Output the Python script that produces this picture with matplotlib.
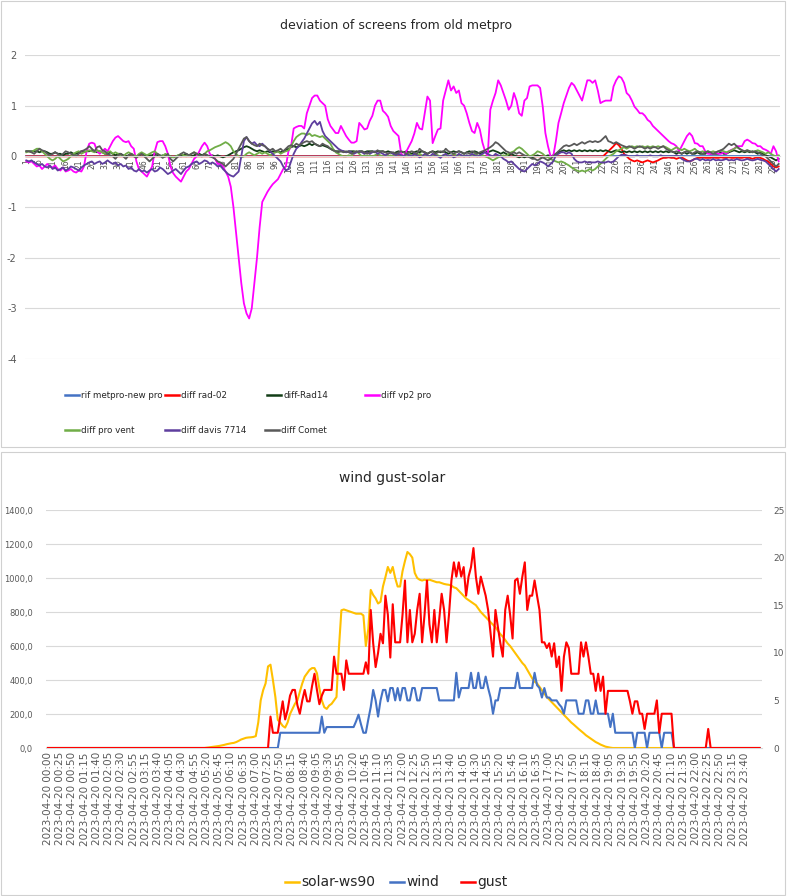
import numpy as np
import matplotlib
matplotlib.use("Agg")
import matplotlib.pyplot as plt
from matplotlib.lines import Line2D
from matplotlib.patches import Rectangle

plt.rcParams['axes.unicode_minus'] = False

# canvas size in pixels (dpi 100)
W, H = 787, 896
GRID = '#D9D9D9'
TXT = '#595959'

# ---------------- top chart: deviation of screens (288 samples) ----------------
rif_metpro_new_pro = [0.0] * 288

diff_rad02 = [0.0] * 216 + [
    0.00, 0.00, 0.00, 0.00, 0.00, 0.05, 0.10, 0.15, 0.20, 0.26, 0.22, 0.15,
    0.05, 0.00, -0.05, -0.08, -0.10, -0.08, -0.10, -0.12, -0.10, -0.08, -0.10, -0.12,
    -0.10, -0.08, -0.05, -0.03, -0.03, -0.02, -0.03, -0.03, -0.05, -0.03, -0.02, -0.05,
    -0.08, -0.10, -0.08, -0.05, -0.03, -0.03, -0.02, -0.03, -0.03, -0.03, -0.02, -0.03,
    -0.03, -0.02, -0.03, -0.03, -0.02, -0.03, -0.03, -0.02, -0.03, -0.03, -0.02, -0.03,
    -0.03, -0.05, -0.03, -0.02, -0.03, -0.05, -0.08, -0.10, -0.15, -0.20, -0.22, -0.20,
]

diff_rad14 = [
    0.10, 0.10, 0.10, 0.10, 0.10, 0.08, 0.10, 0.10, 0.08, 0.05, 0.05, 0.08, 0.05, 0.05, 0.02, 0.05, 0.05, 0.08, 0.05, 0.05, 0.08, 0.10, 0.08, 0.10,
    0.10, 0.12, 0.10, 0.08, 0.10, 0.08, 0.05, 0.05, 0.08, 0.05, 0.02, 0.05, 0.05, 0.02, 0.00, 0.02, 0.05, 0.02, 0.00, 0.02, 0.05, 0.02, 0.00, 0.02,
    0.02, 0.05, 0.02, 0.00, 0.02, 0.00, 0.02, 0.00, -0.02, 0.00, 0.02, 0.00, 0.02, 0.05, 0.02, 0.00, 0.02, 0.05, 0.05, 0.02, 0.05, 0.02, 0.00, 0.02,
    0.00, 0.02, 0.00, -0.02, 0.00, 0.02, 0.05, 0.08, 0.10, 0.12, 0.15, 0.18, 0.20, 0.18, 0.15, 0.12, 0.10, 0.12, 0.10, 0.08, 0.10, 0.08, 0.10, 0.08,
    0.10, 0.08, 0.10, 0.12, 0.15, 0.18, 0.20, 0.18, 0.20, 0.22, 0.20, 0.22, 0.25, 0.22, 0.25, 0.22, 0.20, 0.22, 0.20, 0.18, 0.15, 0.12, 0.10, 0.10,
    0.10, 0.10, 0.08, 0.10, 0.10, 0.10, 0.08, 0.10, 0.10, 0.08, 0.10, 0.10, 0.10, 0.08, 0.10, 0.10, 0.10, 0.08, 0.10, 0.08, 0.05, 0.08, 0.10, 0.08,
    0.08, 0.10, 0.08, 0.05, 0.08, 0.10, 0.08, 0.10, 0.08, 0.05, 0.08, 0.10, 0.08, 0.10, 0.08, 0.10, 0.08, 0.05, 0.08, 0.10, 0.08, 0.10, 0.08, 0.05,
    0.08, 0.10, 0.08, 0.10, 0.08, 0.05, 0.08, 0.10, 0.08, 0.10, 0.12, 0.10, 0.08, 0.05, 0.08, 0.05, 0.02, 0.05, 0.02, 0.00, -0.02, 0.00, -0.02, 0.00,
    0.00, -0.02, 0.00, 0.02, 0.00, -0.02, 0.00, 0.02, 0.00, 0.02, 0.05, 0.08, 0.10, 0.12, 0.10, 0.12, 0.10, 0.12, 0.10, 0.12, 0.10, 0.12, 0.10, 0.12,
    0.10, 0.12, 0.10, 0.12, 0.10, 0.12, 0.10, 0.08, 0.10, 0.12, 0.10, 0.08, 0.10, 0.08, 0.10, 0.08, 0.10, 0.08, 0.10, 0.08, 0.10, 0.08, 0.10, 0.08,
    0.10, 0.08, 0.10, 0.08, 0.10, 0.08, 0.10, 0.08, 0.05, 0.08, 0.05, 0.08, 0.05, 0.08, 0.05, 0.05, 0.08, 0.05, 0.05, 0.05, 0.08, 0.05, 0.05, 0.05,
    0.05, 0.08, 0.05, 0.05, 0.08, 0.10, 0.12, 0.10, 0.08, 0.10, 0.08, 0.10, 0.08, 0.10, 0.08, 0.05, 0.08, 0.05, 0.02, 0.00, -0.02, -0.05, -0.08, -0.05,
]

diff_vp2_pro = [
    -0.10, -0.12, -0.10, -0.15, -0.20, -0.18, -0.25, -0.20, -0.15, -0.20, -0.22, -0.18, -0.25, -0.28, -0.22, -0.30, -0.28, -0.25, -0.30, -0.32, -0.28, -0.30, -0.20, 0.10,
    0.25, 0.27, 0.25, 0.10, 0.05, 0.10, 0.15, 0.10, 0.20, 0.30, 0.37, 0.40, 0.35, 0.30, 0.28, 0.30, 0.20, 0.15, -0.10, -0.26, -0.30, -0.35, -0.40, -0.30,
    -0.20, 0.10, 0.28, 0.30, 0.30, 0.20, 0.05, -0.20, -0.33, -0.40, -0.45, -0.50, -0.40, -0.30, -0.25, -0.15, -0.05, 0.00, 0.10, 0.20, 0.27, 0.20, 0.05, 0.00,
    -0.05, -0.15, -0.15, -0.20, -0.30, -0.40, -0.60, -1.00, -1.50, -2.00, -2.50, -2.90, -3.10, -3.20, -3.00, -2.50, -2.00, -1.40, -0.90, -0.80, -0.70, -0.62, -0.55, -0.50,
    -0.45, -0.35, -0.25, -0.20, 0.10, 0.20, 0.55, 0.58, 0.60, 0.60, 0.55, 0.85, 1.00, 1.15, 1.20, 1.20, 1.10, 1.05, 1.00, 0.73, 0.60, 0.53, 0.46, 0.46,
    0.60, 0.50, 0.40, 0.33, 0.27, 0.27, 0.30, 0.66, 0.60, 0.53, 0.55, 0.70, 0.80, 1.00, 1.10, 1.10, 0.90, 0.85, 0.78, 0.60, 0.50, 0.45, 0.40, 0.05,
    0.00, 0.10, 0.20, 0.30, 0.45, 0.66, 0.55, 0.53, 0.85, 1.18, 1.10, 0.26, 0.40, 0.53, 0.55, 1.10, 1.30, 1.50, 1.30, 1.38, 1.25, 1.30, 1.05, 1.00,
    0.85, 0.66, 0.50, 0.46, 0.66, 0.53, 0.27, 0.10, 0.00, 0.92, 1.10, 1.25, 1.50, 1.40, 1.25, 1.10, 0.92, 1.00, 1.25, 1.10, 0.85, 0.80, 1.10, 1.15,
    1.38, 1.40, 1.40, 1.40, 1.35, 0.98, 0.46, 0.20, 0.00, 0.00, 0.30, 0.66, 0.85, 1.05, 1.20, 1.35, 1.45, 1.40, 1.30, 1.20, 1.10, 1.30, 1.50, 1.50,
    1.45, 1.50, 1.30, 1.05, 1.08, 1.10, 1.10, 1.10, 1.38, 1.50, 1.58, 1.55, 1.45, 1.25, 1.20, 1.10, 0.98, 0.92, 0.85, 0.85, 0.80, 0.72, 0.68, 0.60,
    0.55, 0.50, 0.45, 0.40, 0.35, 0.30, 0.26, 0.24, 0.20, 0.10, 0.20, 0.30, 0.40, 0.46, 0.40, 0.26, 0.25, 0.20, 0.20, 0.10, 0.05, 0.05, 0.05, 0.08,
    0.05, 0.05, 0.08, 0.05, 0.10, 0.13, 0.15, 0.20, 0.20, 0.20, 0.30, 0.33, 0.30, 0.26, 0.25, 0.20, 0.20, 0.15, 0.13, 0.10, 0.05, 0.20, 0.10, -0.10,
]

diff_pro_vent = [
    0.08, 0.10, 0.08, 0.12, 0.15, 0.15, 0.10, 0.05, 0.00, -0.05, -0.08, -0.05, 0.00, -0.05, -0.10, -0.08, -0.05, 0.00, 0.05, 0.08, 0.10, 0.05, 0.08, 0.10,
    0.12, 0.10, 0.08, 0.12, 0.10, 0.08, 0.05, 0.08, 0.10, 0.05, 0.08, 0.05, 0.02, 0.00, 0.05, 0.08, 0.05, 0.02, 0.00, 0.05, 0.08, 0.05, 0.02, 0.05,
    0.08, 0.10, 0.05, 0.02, 0.00, 0.05, 0.02, 0.00, -0.02, 0.00, 0.02, 0.05, 0.02, 0.00, 0.02, 0.05, 0.08, 0.05, 0.02, 0.00, 0.05, 0.10, 0.12, 0.15,
    0.18, 0.20, 0.22, 0.25, 0.28, 0.25, 0.20, 0.10, 0.05, 0.00, -0.02, 0.00, 0.05, 0.08, 0.05, 0.02, 0.05, 0.08, 0.05, 0.08, 0.05, 0.02, 0.05, 0.08,
    0.10, 0.05, 0.08, 0.10, 0.12, 0.20, 0.30, 0.38, 0.42, 0.45, 0.45, 0.42, 0.45, 0.40, 0.42, 0.40, 0.38, 0.40, 0.35, 0.30, 0.25, 0.15, 0.08, 0.05,
    0.02, 0.00, 0.00, 0.02, 0.00, 0.08, 0.10, 0.05, 0.00, 0.02, 0.00, 0.02, 0.00, 0.02, 0.05, 0.02, 0.00, 0.02, 0.00, 0.02, 0.00, 0.02, 0.05, 0.02,
    0.00, 0.02, 0.05, 0.02, 0.00, 0.02, 0.05, 0.02, 0.00, 0.02, 0.00, 0.02, 0.05, 0.02, 0.00, 0.02, 0.00, 0.02, 0.00, 0.05, 0.02, 0.00, 0.02, 0.00,
    0.02, 0.00, 0.02, 0.05, 0.02, 0.00, 0.02, 0.00, -0.02, -0.05, -0.08, -0.05, -0.02, 0.00, 0.02, 0.00, 0.05, 0.08, 0.10, 0.15, 0.18, 0.15, 0.10, 0.05,
    0.00, 0.02, 0.05, 0.10, 0.08, 0.05, 0.00, -0.02, -0.05, -0.08, -0.10, -0.12, -0.10, -0.12, -0.15, -0.18, -0.22, -0.25, -0.28, -0.30, -0.28, -0.30, -0.28, -0.25,
    -0.28, -0.25, -0.20, -0.15, -0.10, -0.05, 0.00, 0.02, 0.05, 0.10, 0.12, 0.15, 0.18, 0.15, 0.18, 0.20, 0.18, 0.20, 0.18, 0.20, 0.18, 0.20, 0.18, 0.20,
    0.18, 0.20, 0.18, 0.20, 0.18, 0.15, 0.12, 0.15, 0.18, 0.15, 0.12, 0.15, 0.12, 0.10, 0.12, 0.15, 0.10, 0.08, 0.10, 0.08, 0.10, 0.08, 0.10, 0.08,
    0.10, 0.12, 0.10, 0.08, 0.10, 0.12, 0.15, 0.18, 0.15, 0.12, 0.10, 0.12, 0.10, 0.08, 0.10, 0.12, 0.10, 0.08, 0.05, 0.08, 0.05, 0.02, 0.00, 0.02,
]

diff_davis_7714 = [
    -0.08, -0.10, -0.08, -0.12, -0.15, -0.18, -0.15, -0.20, -0.22, -0.18, -0.25, -0.22, -0.28, -0.25, -0.22, -0.28, -0.25, -0.20, -0.22, -0.25, -0.28, -0.22, -0.18, -0.15,
    -0.12, -0.10, -0.15, -0.12, -0.10, -0.15, -0.12, -0.08, -0.12, -0.15, -0.12, -0.18, -0.15, -0.20, -0.18, -0.25, -0.22, -0.28, -0.30, -0.25, -0.30, -0.28, -0.32, -0.28,
    -0.25, -0.30, -0.28, -0.22, -0.25, -0.30, -0.35, -0.32, -0.28, -0.25, -0.30, -0.35, -0.28, -0.22, -0.20, -0.15, -0.12, -0.10, -0.15, -0.12, -0.08, -0.10, -0.15, -0.12,
    -0.15, -0.20, -0.18, -0.25, -0.30, -0.35, -0.38, -0.40, -0.35, -0.30, 0.00, 0.30, 0.38, 0.30, 0.25, 0.28, 0.22, 0.20, 0.25, 0.20, 0.15, 0.10, 0.05, 0.00,
    -0.05, -0.10, -0.20, -0.28, -0.25, -0.10, 0.05, 0.15, 0.20, 0.28, 0.35, 0.45, 0.55, 0.65, 0.70, 0.62, 0.68, 0.50, 0.40, 0.35, 0.30, 0.25, 0.20, 0.15,
    0.12, 0.10, 0.08, 0.10, 0.08, 0.05, 0.08, 0.10, 0.08, 0.05, 0.08, 0.05, 0.08, 0.10, 0.05, 0.08, 0.05, 0.02, 0.05, 0.08, 0.05, 0.02, 0.05, 0.02,
    0.00, 0.05, 0.02, 0.00, 0.05, 0.02, -0.02, 0.00, 0.05, 0.02, 0.00, 0.05, 0.02, 0.00, -0.03, 0.02, 0.05, 0.00, 0.02, -0.02, 0.00, 0.05, 0.02, 0.00,
    0.02, 0.00, 0.05, 0.02, 0.00, 0.02, 0.05, 0.08, 0.05, 0.02, 0.00, 0.05, 0.02, 0.00, -0.05, -0.08, -0.12, -0.10, -0.15, -0.20, -0.25, -0.28, -0.30, -0.25,
    -0.20, -0.15, -0.18, -0.15, -0.10, -0.12, -0.15, -0.20, -0.15, -0.10, 0.02, 0.05, 0.08, 0.08, 0.05, 0.08, 0.05, -0.05, -0.10, -0.12, -0.12, -0.10, -0.12, -0.12,
    -0.12, -0.12, -0.10, -0.12, -0.12, -0.12, -0.10, -0.12, -0.10, -0.05, 0.00, 0.03, 0.03, 0.02, 0.00, 0.00, 0.00, 0.02, 0.00, 0.00, 0.00, 0.00, 0.02, 0.00,
    0.00, 0.00, 0.02, 0.00, 0.00, 0.00, 0.00, 0.00, 0.02, 0.00, -0.05, -0.08, -0.10, -0.10, -0.08, -0.05, -0.05, -0.08, -0.05, -0.08, -0.07, -0.08, -0.05, -0.08,
    -0.07, -0.08, -0.07, -0.05, -0.08, -0.07, -0.08, -0.05, -0.07, -0.08, -0.07, -0.05, -0.07, -0.08, -0.07, -0.05, -0.07, -0.08, -0.10, -0.15, -0.20, -0.25, -0.30, -0.25,
]

diff_comet = [
    0.10, 0.10, 0.08, 0.05, 0.10, 0.15, 0.12, 0.10, 0.05, 0.02, 0.05, 0.08, 0.05, 0.00, 0.05, 0.10, 0.08, 0.05, 0.02, 0.00, 0.05, 0.10, 0.12, 0.15,
    0.20, 0.15, 0.10, 0.18, 0.20, 0.12, 0.10, 0.05, 0.02, 0.00, -0.05, 0.02, 0.05, 0.00, -0.05, 0.02, 0.05, 0.00, -0.03, 0.02, 0.05, 0.00, -0.05, -0.10,
    -0.05, 0.00, 0.05, 0.02, -0.03, 0.00, 0.05, -0.05, -0.10, -0.05, 0.00, 0.05, 0.08, 0.05, 0.02, 0.05, 0.08, 0.05, 0.02, 0.00, 0.05, 0.02, 0.00, -0.02,
    -0.05, -0.10, -0.12, -0.15, -0.20, -0.15, -0.10, -0.05, 0.05, 0.15, 0.25, 0.35, 0.38, 0.30, 0.25, 0.22, 0.20, 0.25, 0.22, 0.20, 0.15, 0.12, 0.15, 0.10,
    0.12, 0.15, 0.10, 0.15, 0.20, 0.22, 0.20, 0.25, 0.22, 0.25, 0.28, 0.30, 0.28, 0.30, 0.25, 0.22, 0.20, 0.25, 0.22, 0.20, 0.15, 0.12, 0.10, 0.08,
    0.10, 0.08, 0.10, 0.08, 0.05, 0.08, 0.10, 0.08, 0.10, 0.08, 0.05, 0.08, 0.10, 0.08, 0.12, 0.08, 0.10, 0.08, 0.05, 0.08, 0.08, 0.05, 0.08, 0.10,
    0.08, 0.05, 0.08, 0.10, 0.08, 0.05, 0.15, 0.10, 0.08, 0.05, 0.08, 0.10, 0.05, 0.08, 0.10, 0.08, 0.15, 0.10, 0.08, 0.05, 0.08, 0.10, 0.08, 0.05,
    0.08, 0.05, 0.10, 0.08, 0.05, 0.08, 0.10, 0.12, 0.15, 0.18, 0.22, 0.28, 0.25, 0.20, 0.15, 0.10, 0.08, 0.05, 0.08, 0.05, 0.08, 0.05, 0.02, 0.00,
    -0.02, -0.05, -0.05, -0.08, -0.05, -0.02, -0.05, -0.08, -0.05, 0.00, 0.05, 0.10, 0.15, 0.20, 0.22, 0.20, 0.22, 0.25, 0.22, 0.25, 0.28, 0.25, 0.28, 0.30,
    0.28, 0.30, 0.28, 0.30, 0.35, 0.40, 0.30, 0.28, 0.25, 0.28, 0.25, 0.22, 0.20, 0.18, 0.20, 0.18, 0.15, 0.18, 0.20, 0.18, 0.15, 0.18, 0.15, 0.18,
    0.18, 0.15, 0.18, 0.20, 0.15, 0.12, 0.10, 0.08, 0.10, 0.08, 0.05, 0.08, 0.10, 0.08, 0.05, 0.08, 0.10, 0.08, 0.05, 0.08, 0.10, 0.08, 0.05, 0.08,
    0.10, 0.12, 0.15, 0.20, 0.25, 0.22, 0.25, 0.20, 0.15, 0.12, 0.10, 0.12, 0.10, 0.08, 0.10, 0.08, 0.05, 0.02, 0.00, -0.05, -0.10, -0.15, -0.20, -0.15,
]

top_names = ["rif metpro-new pro", "diff rad-02", "diff-Rad14", "diff vp2 pro",
             "diff pro vent", "diff davis 7714", "diff Comet"]
top_series = [rif_metpro_new_pro, diff_rad02, diff_rad14, diff_vp2_pro,
              diff_pro_vent, diff_davis_7714, diff_comet]
top_colors = ['#4472C4', '#FF0000', '#123D16', '#FF00FF', '#70AD47', '#5E3E9E', '#595959']

# ---------------- bottom chart: wind gust-solar (292 samples, 5 min) ----------------
solar_ws90 = [0] * 65 + [
    2, 4, 6, 8, 10, 12, 15, 18, 22, 25,
    28, 30, 35, 42, 50, 55, 60, 62, 63, 65,
    70, 150, 280, 340, 380, 480, 490, 400, 300, 165,
    150, 130, 120, 150, 200, 230, 260, 280, 330, 380,
    420, 440, 460, 470, 470, 440, 350, 280, 240, 230,
    250, 260, 280, 300, 590, 810, 815, 810, 805, 800,
    795, 790, 790, 790, 780, 600, 700, 930, 900, 880,
    850, 860, 950, 1005, 1065, 1030, 1065, 1000, 950, 950,
    1040, 1100, 1153, 1140, 1120, 1030, 1000, 990, 985, 990,
    985, 990, 985, 980, 975, 975, 970, 965, 962, 960,
    955, 945, 940, 925, 910, 895, 880, 870, 860, 850,
    840, 820, 800, 785, 770, 755, 740, 725, 710, 690,
    670, 655, 635, 615, 600, 580, 560, 540, 520, 500,
    485, 460, 435, 410, 390, 380, 360, 340, 320, 300,
    285, 270, 255, 240, 225, 210, 195, 180, 165, 150,
    138, 125, 112, 100, 88, 75, 65, 55, 45, 35,
    28, 20, 14, 8, 5, 2,
] + [0] * 61

wind = [0] * 95 + [1.6] * 17 + [
    3.3, 1.6, 2.2, 2.2, 2.2, 2.2, 2.2, 2.2, 2.2, 2.2,
    2.2, 2.2, 2.2, 2.2, 2.8, 3.5, 2.5, 1.6, 1.6, 3.0,
    4.3, 6.1, 5.0, 3.3, 5.0, 6.1, 6.1, 4.9, 6.3, 6.3,
    5.0, 6.3, 5.0, 6.3, 6.3, 5.0, 5.0, 6.3, 6.3, 5.0,
    5.0, 6.3, 6.3, 6.3, 6.3, 6.3, 6.3, 6.3, 5.0, 5.0,
    5.0, 5.0, 5.0, 5.0, 5.0, 7.9, 5.3, 6.3, 6.3, 6.3,
    6.3, 7.9, 6.3, 6.3, 7.9, 6.3, 6.3, 7.5, 6.3, 5.3,
    3.6, 5.0, 5.0, 6.3, 6.3, 6.3, 6.3, 6.3, 6.3, 6.3,
    7.9, 6.3, 6.3, 6.3, 6.3, 6.3, 6.3, 7.9, 6.6, 6.3,
    5.3, 6.3, 5.3, 5.3, 5.0, 5.0, 5.0, 4.6, 4.3, 3.6,
    5.0, 5.0, 5.0, 5.0, 5.0, 3.6, 3.6, 3.6, 5.0, 5.0,
    3.6, 3.6, 5.0, 3.6, 3.6, 3.6, 3.6, 3.6, 2.2, 3.6,
    1.6, 1.6, 1.6, 1.6, 1.6, 1.6, 1.6, 1.6, 0.0, 1.6,
    1.6, 1.6, 1.6, 0.0, 1.6, 1.6, 1.6, 1.6, 1.6, 0.0,
    1.6, 1.6, 1.6, 1.6, 0.0,
] + [0] * 35

gust = [0] * 91 + [
    3.3, 1.6, 1.6, 1.6, 3.3, 4.9, 3.0, 4.0, 5.5, 6.1,
    6.1, 4.5, 3.6, 5.0, 6.1, 4.9, 4.9, 6.5, 7.8, 6.1,
    4.6, 5.5, 6.1, 6.1, 6.1, 6.1, 9.6, 7.8, 7.8, 7.8,
    6.1, 9.2, 7.8, 7.8, 7.8, 7.8, 7.8, 7.8, 7.8, 9.0,
    7.8, 14.5, 11.0, 8.5, 10.0, 12.0, 11.0, 16.0, 14.0, 9.5,
    15.1, 11.1, 11.1, 11.1, 14.0, 17.6, 11.1, 14.5, 11.1, 12.0,
    14.5, 16.2, 11.1, 14.0, 17.6, 13.0, 11.1, 14.5, 11.1, 13.5,
    16.2, 14.5, 11.1, 14.0, 17.6, 19.5, 18.0, 19.5, 18.0, 19.0,
    16.0, 18.0, 19.0, 21.0, 18.0, 16.2, 18.0, 17.0, 16.0, 14.5,
    12.0, 9.6, 14.5, 12.7, 11.0, 9.6, 14.5, 16.0, 14.0, 11.5,
    17.6, 17.8, 16.2, 18.0, 19.5, 14.5, 16.0, 16.0, 17.6, 16.0,
    14.5, 11.1, 11.1, 10.5, 11.0, 9.6, 11.0, 8.5, 9.6, 6.0,
    9.6, 11.1, 10.5, 7.8, 7.8, 7.8, 7.8, 11.1, 9.6, 11.1,
    9.6, 7.8, 7.8, 6.0, 7.8, 6.0, 7.5, 3.6, 6.0, 6.0,
    6.0, 6.0, 6.0, 6.0, 6.0, 6.0, 6.0, 4.9, 3.6, 4.9,
    4.9, 3.6, 3.6, 2.0, 3.6, 3.6, 3.6, 3.6, 5.0, 1.6,
    3.6, 3.6, 3.6, 3.6, 3.6,
] + [0] * 14 + [2.0] + [0] * 21

# one label every 5 samples
time_ticks = [
    "00:00", "00:25", "00:50", "01:15", "01:40", "02:05", "02:30", "02:55", "03:15", "03:40",
    "04:05", "04:30", "04:55", "05:20", "05:45", "06:10", "06:35", "07:00", "07:25", "07:50",
    "08:15", "08:40", "09:05", "09:30", "09:55", "10:20", "10:45", "11:10", "11:35", "12:00",
    "12:25", "12:50", "13:15", "13:40", "14:05", "14:30", "14:55", "15:20", "15:45", "16:10",
    "16:35", "17:00", "17:25", "17:50", "18:15", "18:40", "19:05", "19:30", "19:55", "20:20",
    "20:45", "21:10", "21:35", "22:00", "22:25", "22:50", "23:15", "23:40",
]


def box(x0, y0, x1, y1):
    # pixel box (top-left origin) -> figure fraction rect
    return [x0 / W, 1 - y1 / H, (x1 - x0) / W, (y1 - y0) / H]


def legend_item(fig, x, y, color, label, size):
    yy = 1 - y / H
    fig.add_artist(Line2D([x / W, (x + 14) / W], [yy, yy], color=color, lw=1.8,
                          transform=fig.transFigure))
    fig.text((x + 16) / W, yy, label, ha='left', va='center', fontsize=size,
             color='#262626')


fig = plt.figure(figsize=(W / 100, H / 100), dpi=100)
fig.patch.set_facecolor('white')

# chart frames
for y0, y1 in [(1, 447), (452, 895)]:
    fig.add_artist(Rectangle((1 / W, 1 - y1 / H), 784 / W, (y1 - y0) / H,
                             transform=fig.transFigure, fill=False,
                             edgecolor='#D0D0D0', lw=0.8))

# ---- top chart
ax = fig.add_axes(box(25, 55, 780, 359))
idx = np.arange(1, 289)
for name, vals, col in zip(top_names, top_series, top_colors):
    ax.plot(idx, vals, color=col, lw=1.3, label=name)
ax.set_xlim(0.5, 288.5)
ax.set_ylim(-4, 2)
ax.set_yticks(range(-4, 3))
ax.grid(axis='y', color=GRID, lw=0.8)
ax.set_axisbelow(True)
for s in ['top', 'right', 'left']:
    ax.spines[s].set_visible(False)
ax.spines['bottom'].set_position(('data', 0))
ax.spines['bottom'].set_color(GRID)
ax.set_xticks(idx[::5])
ax.set_xticklabels([str(i) for i in idx[::5]])
ax.tick_params(axis='x', length=0, pad=2, labelsize=5.5, labelcolor='#4D4D4D',
               labelrotation=90)
ax.tick_params(axis='y', length=0, pad=6, labelsize=7, labelcolor=TXT)
fig.text(396 / W, 1 - 25 / H, "deviation of screens from old metpro", ha='center',
         va='center', fontsize=9, color='#262626')

leg_pos = [(65, 395), (165, 395), (267, 395), (365, 395), (65, 430), (165, 430), (265, 430)]
for (lx, ly), name, col in zip(leg_pos, top_names, top_colors):
    legend_item(fig, lx, ly, col, name, 6.3)

# ---- bottom chart
n = len(solar_ws90)
t = np.arange(n)
bx = fig.add_axes(box(45.5, 510, 762, 748))
bx.plot(t, solar_ws90, color='#FFC000', lw=1.5)
bx.set_xlim(-1, n)
bx.set_ylim(0, 1400)
bx.set_yticks(range(0, 1401, 200))
bx.set_yticklabels([f"{v:.1f}".replace('.', ',') for v in range(0, 1401, 200)])
bx.grid(axis='y', color=GRID, lw=0.8)
bx.set_axisbelow(True)
for s in ['top', 'right', 'left']:
    bx.spines[s].set_visible(False)
bx.spines['bottom'].set_color(GRID)
bx.set_xticks(t[::5][:len(time_ticks)])
bx.set_xticklabels(["2023-04-20 " + s for s in time_ticks])
bx.tick_params(axis='x', length=0, pad=3, labelsize=7.5, labelcolor=TXT, labelrotation=90)
bx.tick_params(axis='y', length=0, pad=9, labelsize=6, labelcolor=TXT)

bx2 = bx.twinx()
bx2.plot(t, wind, color='#4472C4', lw=1.5)
bx2.plot(t, gust, color='#FF0000', lw=1.5)
bx2.set_ylim(0, 25)
bx2.set_yticks(range(0, 26, 5))
for s in bx2.spines.values():
    s.set_visible(False)
bx2.tick_params(axis='y', length=0, pad=8, labelsize=6.5, labelcolor=TXT)

fig.text(392 / W, 1 - 478 / H, "wind gust-solar", ha='center', va='center',
         fontsize=10, color='#262626')

for lx, name, col in [(285, "solar-ws90", '#FFC000'), (390, "wind", '#4472C4'),
                      (461, "gust", '#FF0000')]:
    legend_item(fig, lx, 882, col, name, 10)

fig.savefig("out.png", dpi=100)
